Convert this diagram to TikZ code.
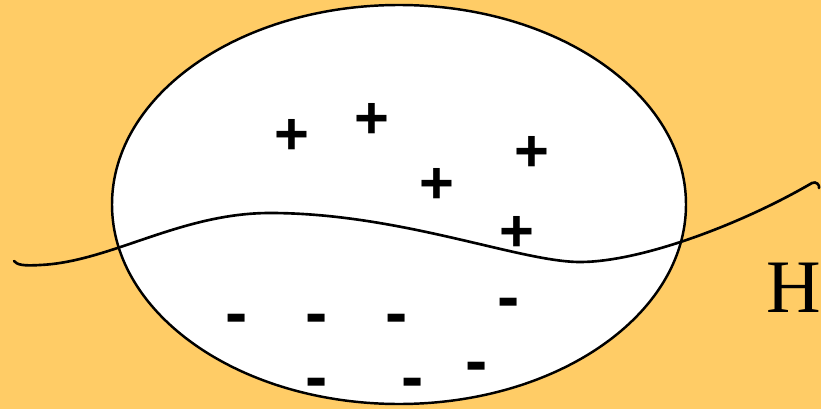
\documentclass[tikz,border=0pt]{standalone}
\usepackage{fontspec}
\setmainfont{Liberation Serif}
\newfontfamily\chargefont{Liberation Sans}
\usepackage{tikz}
\definecolor{goldbg}{HTML}{FFCC66}

\begin{document}
\begin{tikzpicture}[x=0.02cm, y=-0.02cm,
  poscharge/.style={inner sep=0pt, font=\chargefont\bfseries\fontsize{34}{34}\selectfont},
  negcharge/.style={inner sep=0pt, font=\chargefont\bfseries\fontsize{38}{38}\selectfont}]

\path[use as bounding box, fill=goldbg] (0,0) rectangle (821,409);

\draw[line width=1.4pt, fill=white] (399,204.5) ellipse (287 and 199.5);

\draw[line width=1.5pt, line cap=round] (14,261) .. controls (17,265) and (24,266) .. (40,265)
  .. controls (110,262) and (180,213) .. (270,213)
  .. controls (400,213) and (520,262) .. (580,262)
  .. controls (640,262) and (740,225) .. (812,183)
  .. controls (816,181) and (820,185) .. (819,188);

\node[poscharge] (p1) at (292,137) {+};
\node[poscharge] (p2) at (372,121) {+};
\node[poscharge] (p3) at (437,186) {+};
\node[poscharge] (p4) at (532,154) {+};
\node[poscharge] (p5) at (517,234) {+};

\node[negcharge] (n1) at (237,325) {-};
\node[negcharge] (n2) at (317,325) {-};
\node[negcharge] (n3) at (397,325) {-};
\node[negcharge] (n4) at (509,309) {-};
\node[negcharge] (n5) at (317,389) {-};
\node[negcharge] (n6) at (413,389) {-};
\node[negcharge] (n7) at (477,373) {-};

\node[anchor=west, inner sep=0pt, font=\fontsize{43}{43}\selectfont] (hlabel) at (766,288) {H};

\end{tikzpicture}
\end{document}
